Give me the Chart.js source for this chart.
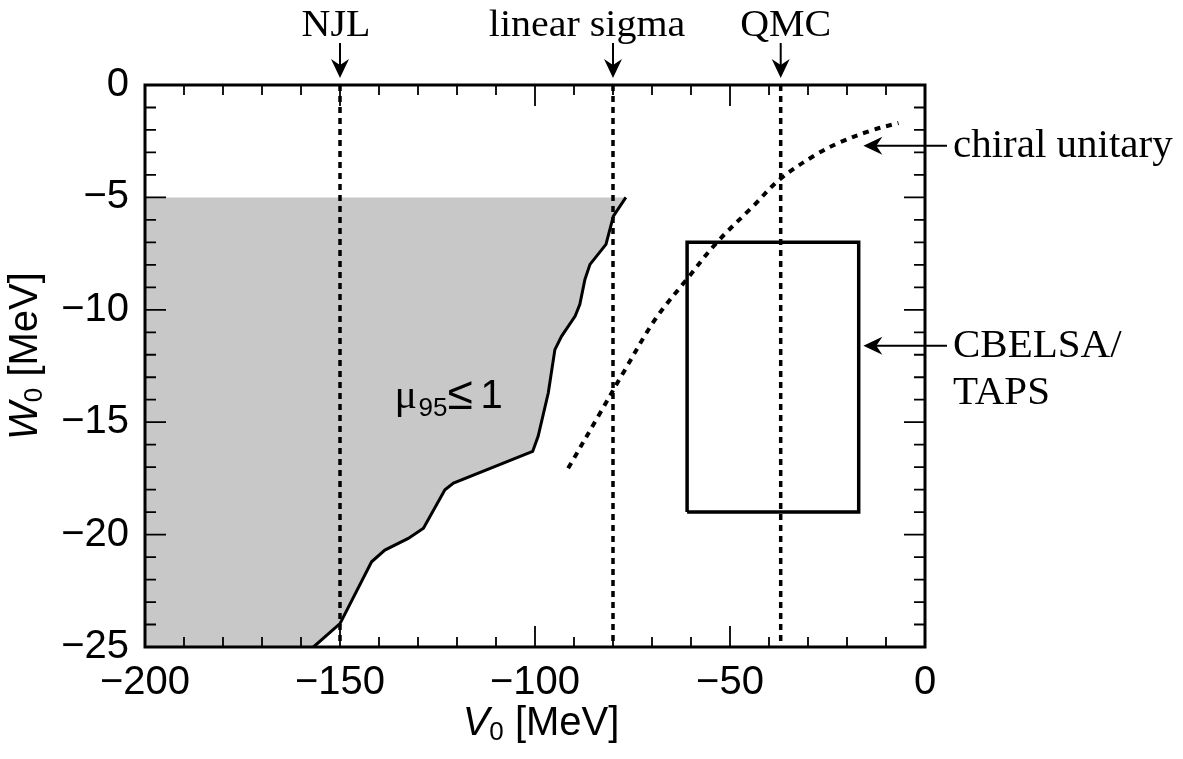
<!DOCTYPE html>
<html>
<head>
<meta charset="utf-8">
<title>W0 vs V0</title>
<script src="https://cdn.jsdelivr.net/npm/chart.js@4.4.0/dist/chart.umd.min.js"></script>
<style>
    html, body { margin: 0; padding: 0; background: #fff; }
    canvas { display: block; }
</style>
</head>
<body>
<canvas id="potChart" width="1183" height="759"></canvas>
<script>
// mu95 <= 1 boundary, V0 / W0 in MeV
var boundaryV = [-156.8, -150, -141.9, -138.5, -132.5, -128.6, -123.1, -120.9, -100.6, -99.2, -96.6, -94.9, -93.2, -89.7, -88.5, -87.2, -85.9, -81.8, -79.9, -76.7];
var boundaryW = [-25, -23.96, -21.21, -20.69, -20.17, -19.72, -18.01, -17.71, -16.30, -15.63, -13.70, -11.77, -11.18, -10.28, -9.76, -8.65, -7.98, -7.09, -5.83, -5.0];
var shadeTop = -5;
var shadeLeft = -200;

// chiral unitary prediction
var chiralV = [-91.5, -83.3, -77.4, -69.2, -61.1, -53.4, -44.0, -37.2, -27.8, -21.8, -14.1, -6.8];
var chiralW = [-17.05, -14.59, -12.81, -10.43, -8.65, -7.01, -5.38, -4.19, -3.08, -2.55, -2.04, -1.69];

// CBELSA/TAPS box
var boxV = [-61, -17];
var boxW = [-19, -7];

// model predictions for V0
var modelNames = ["NJL", "linear sigma", "QMC"];
var modelV = [-150, -80, -37];

// right side labels and where their arrows point
var sideLabels = [["chiral unitary"], ["CBELSA/", "TAPS"]];
var sideArrowV = [-15.8, -15.8];
var sideArrowW = [-2.7, -11.6];

var xTicks = [-200, -150, -100, -50, 0];
var yTicks = [-25, -20, -15, -10, -5, 0];

var SANS = "'Liberation Sans', Arial, sans-serif";
var SERIF = "'Liberation Serif', 'Times New Roman', serif";

function pts(xs, ys) {
    return xs.map(function (x, i) { return {x: x, y: ys[i]}; });
}

function minusFmt(v) {
    return String(v).replace("-", "\u2212");
}

function drawArrow(ctx, x1, y1, x2, y2) {
    var ang = Math.atan2(y2 - y1, x2 - x1);
    var L = 19, H = 9;
    ctx.beginPath();
    ctx.moveTo(x1, y1);
    ctx.lineTo(x2 - Math.cos(ang) * 10, y2 - Math.sin(ang) * 10);
    ctx.stroke();
    ctx.save();
    ctx.translate(x2, y2);
    ctx.rotate(ang);
    ctx.beginPath();
    ctx.moveTo(0, 0);
    ctx.lineTo(-L, -H);
    ctx.lineTo(-L * 0.68, 0);
    ctx.lineTo(-L, H);
    ctx.closePath();
    ctx.fill();
    ctx.restore();
}

// pieces: [text, font, dy]
function richText(ctx, pieces, x, y) {
    var total = 0;
    pieces.forEach(function (p) { ctx.font = p[1]; total += ctx.measureText(p[0]).width; });
    var cx = x - total / 2;
    ctx.textAlign = "left";
    pieces.forEach(function (p) {
        ctx.font = p[1];
        ctx.fillText(p[0], cx, y + (p[2] || 0));
        cx += ctx.measureText(p[0]).width;
    });
}

var overlayPlugin = {
    id: "overlay",
    afterDraw: function (chart) {
        var ctx = chart.ctx;
        var a = chart.chartArea;
        var xs = chart.scales.x, ys = chart.scales.y;
        ctx.save();
        ctx.strokeStyle = "#000";
        ctx.fillStyle = "#000";

        // frame
        ctx.lineWidth = 3;
        ctx.strokeRect(a.left, a.top, a.right - a.left, a.bottom - a.top);

        // inward ticks on all four sides
        ctx.lineWidth = 1.8;
        ctx.beginPath();
        for (var v = -200; v <= 0; v += 10) {
            var px = xs.getPixelForValue(v);
            var len = (v % 50 === 0) ? 21 : 10;
            ctx.moveTo(px, a.bottom); ctx.lineTo(px, a.bottom - len);
            ctx.moveTo(px, a.top); ctx.lineTo(px, a.top + len);
        }
        for (var w = -25; w <= 0; w += 1) {
            var py = ys.getPixelForValue(w);
            var len2 = (w % 5 === 0) ? 21 : 11;
            ctx.moveTo(a.left, py); ctx.lineTo(a.left + len2, py);
            ctx.moveTo(a.right, py); ctx.lineTo(a.right - len2, py);
        }
        ctx.stroke();

        // model labels on top with arrows
        var dx = [-4, -26, 5];
        ctx.lineWidth = 2;
        ctx.textBaseline = "alphabetic";
        modelNames.forEach(function (name, i) {
            var px = xs.getPixelForValue(modelV[i]);
            ctx.save();
            ctx.translate(px + dx[i], 36);
            ctx.scale(1.08, 1);
            ctx.font = "37px " + SERIF;
            ctx.textAlign = "center";
            ctx.fillText(name, 0, 0);
            ctx.restore();
            drawArrow(ctx, px, 43, px, a.top - 7);
        });

        // labels on the right with arrows
        sideLabels.forEach(function (lines, i) {
            var tx = xs.getPixelForValue(sideArrowV[i]);
            var ty = ys.getPixelForValue(sideArrowW[i]);
            drawArrow(ctx, a.right + 22, ty, tx, ty);
            ctx.font = "41px " + SERIF;
            ctx.textAlign = "left";
            lines.forEach(function (t, k) {
                ctx.fillText(t, a.right + 28, ty + 11 + k * 47);
            });
        });

        // mu95 <= 1 label
        ctx.textAlign = "left";
        var mx = xs.getPixelForValue(-136), my = ys.getPixelForValue(-14.35);
        ctx.font = "42px " + SERIF;
        ctx.fillText("\u03bc", mx, my);
        ctx.font = "26px " + SANS;
        ctx.fillText("95", mx + 24, my + 8);
        ctx.font = "46px " + SANS;
        ctx.fillText("\u2264", mx + 53, my + 1);
        ctx.font = "40px " + SANS;
        ctx.fillText("1", mx + 86, my);

        // axis titles
        var big = "40px " + SANS, ital = "italic 40px " + SANS, sub = "26px " + SANS;
        richText(ctx, [["V", ital], ["0", sub, 5], [" [MeV]", big]], (a.left + a.right) / 2 + 6, 735);
        ctx.save();
        ctx.translate(37, (a.top + a.bottom) / 2 - 10);
        ctx.rotate(-Math.PI / 2);
        richText(ctx, [["W", ital], ["0", sub, 5], [" [MeV]", big]], 0, 0);
        ctx.restore();

        ctx.restore();
    }
};

var datasets = [
    {
        // shaded allowed region
        data: pts([shadeLeft].concat(boundaryV), [boundaryW[0]].concat(boundaryW)),
        borderWidth: 0,
        borderColor: "rgba(0,0,0,0)",
        backgroundColor: "#c8c8c8",
        fill: {value: shadeTop},
        order: 10
    },
    {
        data: pts(boundaryV, boundaryW),
        borderColor: "#000",
        borderWidth: 3,
        fill: false,
        order: 1
    },
    {
        data: pts(chiralV, chiralW),
        borderColor: "#000",
        borderWidth: 4,
        borderDash: [6, 6],
        tension: 0.35,
        fill: false,
        order: 1
    },
    {
        data: pts([boxV[0], boxV[1], boxV[1], boxV[0], boxV[0]], [boxW[0], boxW[0], boxW[1], boxW[1], boxW[0]]),
        borderColor: "#000",
        borderWidth: 3.5,
        borderJoinStyle: "miter",
        fill: false,
        order: 1
    }
];

modelV.forEach(function (v) {
    datasets.push({
        data: pts([v, v], [0, -25]),
        borderColor: "#000",
        borderWidth: 3.5,
        borderDash: [6, 5],
        fill: false,
        order: 2
    });
});

var chart = new Chart(document.getElementById("potChart"), {
    type: "line",
    data: {datasets: datasets},
    options: {
        responsive: false,
        animation: false,
        elements: {point: {radius: 0, hoverRadius: 0}},
        layout: {padding: {left: 0, right: 258, top: 85, bottom: 0}},
        plugins: {
            legend: {display: false},
            tooltip: {enabled: false}
        },
        scales: {
            x: {
                type: "linear",
                min: -200,
                max: 0,
                afterFit: function (s) { s.height = 112; },
                afterBuildTicks: function (s) { s.ticks = xTicks.map(function (v) { return {value: v}; }); },
                grid: {display: false, drawTicks: false},
                border: {display: false},
                ticks: {
                    color: "#000",
                    font: {family: SANS, size: 40},
                    padding: 12,
                    maxRotation: 0,
                    callback: minusFmt
                }
            },
            y: {
                type: "linear",
                min: -25,
                max: 0,
                afterFit: function (s) { s.width = 145; },
                afterBuildTicks: function (s) { s.ticks = yTicks.map(function (v) { return {value: v}; }); },
                grid: {display: false, drawTicks: false},
                border: {display: false},
                ticks: {
                    color: "#000",
                    font: {family: SANS, size: 40},
                    padding: 16,
                    callback: minusFmt
                }
            }
        }
    },
    plugins: [overlayPlugin]
});
</script>
</body>
</html>
